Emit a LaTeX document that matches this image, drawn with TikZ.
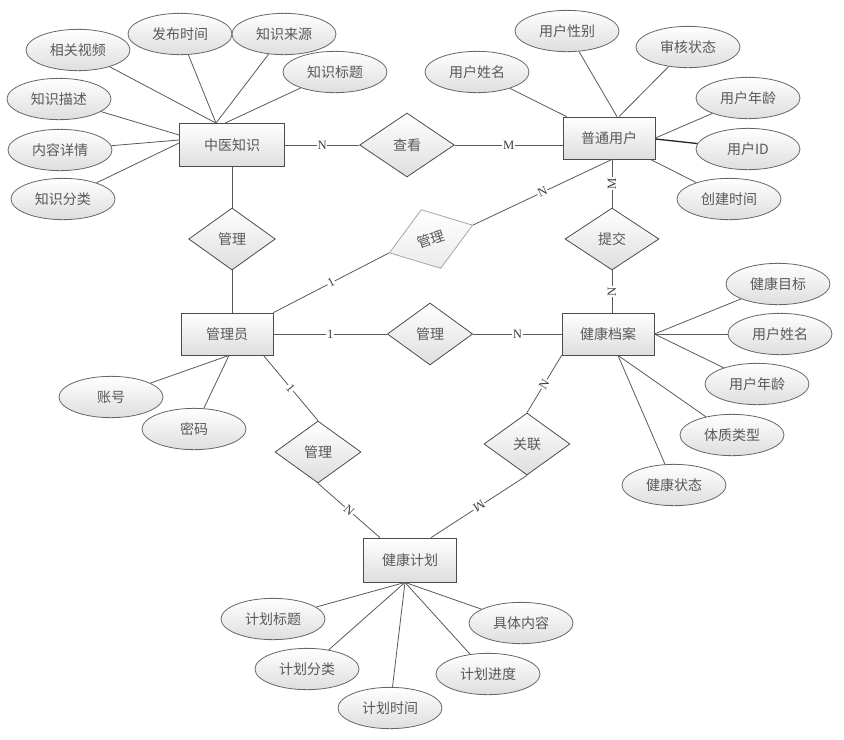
\documentclass[tikz,border=0pt]{standalone}
\usepackage{fontspec}
\setmainfont{Noto Sans CJK SC}
\newfontfamily\latinserif{Liberation Serif}
\usetikzlibrary{shapes.geometric,calc}
\tikzset{
  base/.style={draw=black!70, line width=0.6pt, top color=white, bottom color=black!13,
    text=black!65, font=\fontsize{10.5}{12}\selectfont, inner sep=0pt},
  entity/.style={base, rectangle, minimum width=69pt, minimum height=31.5pt},
  attr/.style={base, ellipse, minimum width=78pt, minimum height=31pt, draw=black!60},
  rel/.style={base, diamond, minimum width=65pt, minimum height=46.5pt},
  conn/.style={draw=black!65, line width=0.6pt},
  card/.style={fill=white, inner sep=0.6pt, text=black!75, font=\latinserif\fontsize{9.5}{9.5}\selectfont},
}
\begin{document}
\begin{tikzpicture}[x=0.75pt,y=-0.75pt]
\useasboundingbox (0,0) rectangle (844,740);
% entities
\node[entity, minimum width=78.75pt, minimum height=32.25pt] (zy) at (232,145) {中医知识};
\node[entity] (pt) at (609,138) {普通用户};
\node[entity] (gly) at (227,334) {管理员};
\node[entity] (da) at (608,334) {健康档案};
\node[entity, minimum width=70pt, minimum height=33pt] (jh) at (410,560) {健康计划};
% relationships
\node[rel, minimum width=71pt, minimum height=48pt] (ck) at (407,145) {查看};
\node[rel] (r1) at (232,239) {管理};
\node[rel, rotate=18.4, minimum width=66pt, draw=black!35, bottom color=black!8] (r2) at (431,239) {管理};
\node[rel, minimum width=64pt] (r3) at (430,334) {管理};
\node[rel, minimum width=70.5pt] (tj) at (612,239) {提交};
\node[rel, minimum width=64.5pt] (r4) at (318,452) {管理};
\node[rel, minimum width=64.5pt] (gl) at (527,444) {关联};
% attributes of 中医知识
\node[attr] (a1) at (78,50) {相关视频};
\node[attr] (a2) at (180,34) {发布时间};
\node[attr] (a3) at (284,34) {知识来源};
\node[attr] (a4) at (335,72) {知识标题};
\node[attr] (a5) at (59,99) {知识描述};
\node[attr] (a6) at (60,150) {内容详情};
\node[attr] (a7) at (63,199) {知识分类};
% attributes of 普通用户
\node[attr] (b1) at (477,72) {用户姓名};
\node[attr] (b2) at (567,31) {用户性别};
\node[attr] (b3) at (688,47) {审核状态};
\node[attr] (b4) at (748,98) {用户年龄};
\node[attr] (b5) at (748,149) {用户ID};
\node[attr] (b6) at (729,199) {创建时间};
% attributes of 管理员
\node[attr] (c1) at (111,397) {账号};
\node[attr] (c2) at (194,429) {密码};
% attributes of 健康档案
\node[attr] (d1) at (778,284) {健康目标};
\node[attr] (d2) at (780,334) {用户姓名};
\node[attr] (d3) at (757,384) {用户年龄};
\node[attr] (d4) at (732,435) {体质类型};
\node[attr] (d5) at (674,485) {健康状态};
% attributes of 健康计划
\node[attr] (e1) at (273,619) {计划标题};
\node[attr] (e2) at (307,669) {计划分类};
\node[attr] (e3) at (390,708) {计划时间};
\node[attr] (e4) at (488,674) {计划进度};
\node[attr] (e5) at (521,623) {具体内容};
% attribute connectors
\coordinate (zyt) at ($(zy.north)+(-16,0)$);
\coordinate (zyt2) at ($(zy.north)+(-7,0)$);
\draw[conn] (a1) -- (zyt);
\draw[conn] (a2) -- (zyt);
\draw[conn] (a3) -- (zyt);
\draw[conn] (a4) -- (zyt2);
\draw[conn] (a5) -- ($(zy.west)+(0,-10)$);
\draw[conn] (a6) -- ($(zy.west)+(0,-5)$);
\draw[conn] (a7) -- ($(zy.west)+(0,-2)$);
\draw[conn] (b1) -- ($(pt.north west)+(4,0)$);
\draw[conn] (b2) -- ($(pt.north)+(8,0)$);
\draw[conn] (b3) -- ($(pt.north)+(10,0)$);
\draw[conn] (b4) -- (pt.east);
\draw[conn, line width=1pt, draw=black!85] (b5) -- ($(pt.east)+(0,1)$);
\draw[conn] (b6) -- ($(pt.south east)+(-5,0)$);
\coordinate (glyb) at ($(gly.south)+(2,0)$);
\draw[conn] (c1) -- (glyb);
\draw[conn] (c2) -- (glyb);
\draw[conn] (d1) -- (da.east);
\draw[conn] (d2) -- (da.east);
\draw[conn] (d3) -- (da.east);
\coordinate (dab) at ($(da.south)+(10,0)$);
\draw[conn] (d4) -- (dab);
\draw[conn] (d5) -- (dab);
\coordinate (jhb) at ($(jh.south)+(-5,0)$);
\draw[conn] (e1) -- (jhb);
\draw[conn] (e2) -- (jhb);
\draw[conn] (e3) -- (jhb);
\draw[conn] (e4) -- (jhb);
\draw[conn] (e5) -- (jhb);
% relationship connectors
\draw[conn] (zy) -- node[card]{N} (ck);
\draw[conn] (ck.east) -- node[card]{M} (ck.east -| pt.west);
\draw[conn] (zy) -- (r1);
\draw[conn] (r1.south) -- (r1.south |- gly.north);
\draw[conn] (gly.north east) -- node[card, sloped]{1} (r2.west);
\draw[conn] (r2.east) -- node[card, sloped]{N} ($(pt.south)+(3,0)$);
\draw[conn] (tj.north) -- node[card, rotate=90]{M} (tj.north |- pt.south);
\draw[conn] (tj.south) -- node[card, rotate=90]{N} (tj.south |- da.north);
\draw[conn] (gly) -- node[card]{1} (r3);
\draw[conn] (r3) -- node[card]{N} (da);
\draw[conn] ($(gly.south east)+(-10,0)$) -- node[card, sloped]{1} (r4.north);
\draw[conn] (r4.south) -- node[card, sloped]{N} ($(jh.north west)+(17,0)$);
\draw[conn] (da.south west) -- node[card, sloped]{N} (gl.north);
\draw[conn] (gl.south) -- node[card, sloped, allow upside down]{M} ($(jh.north east)+(-26,0)$);
\end{tikzpicture}
\end{document}
